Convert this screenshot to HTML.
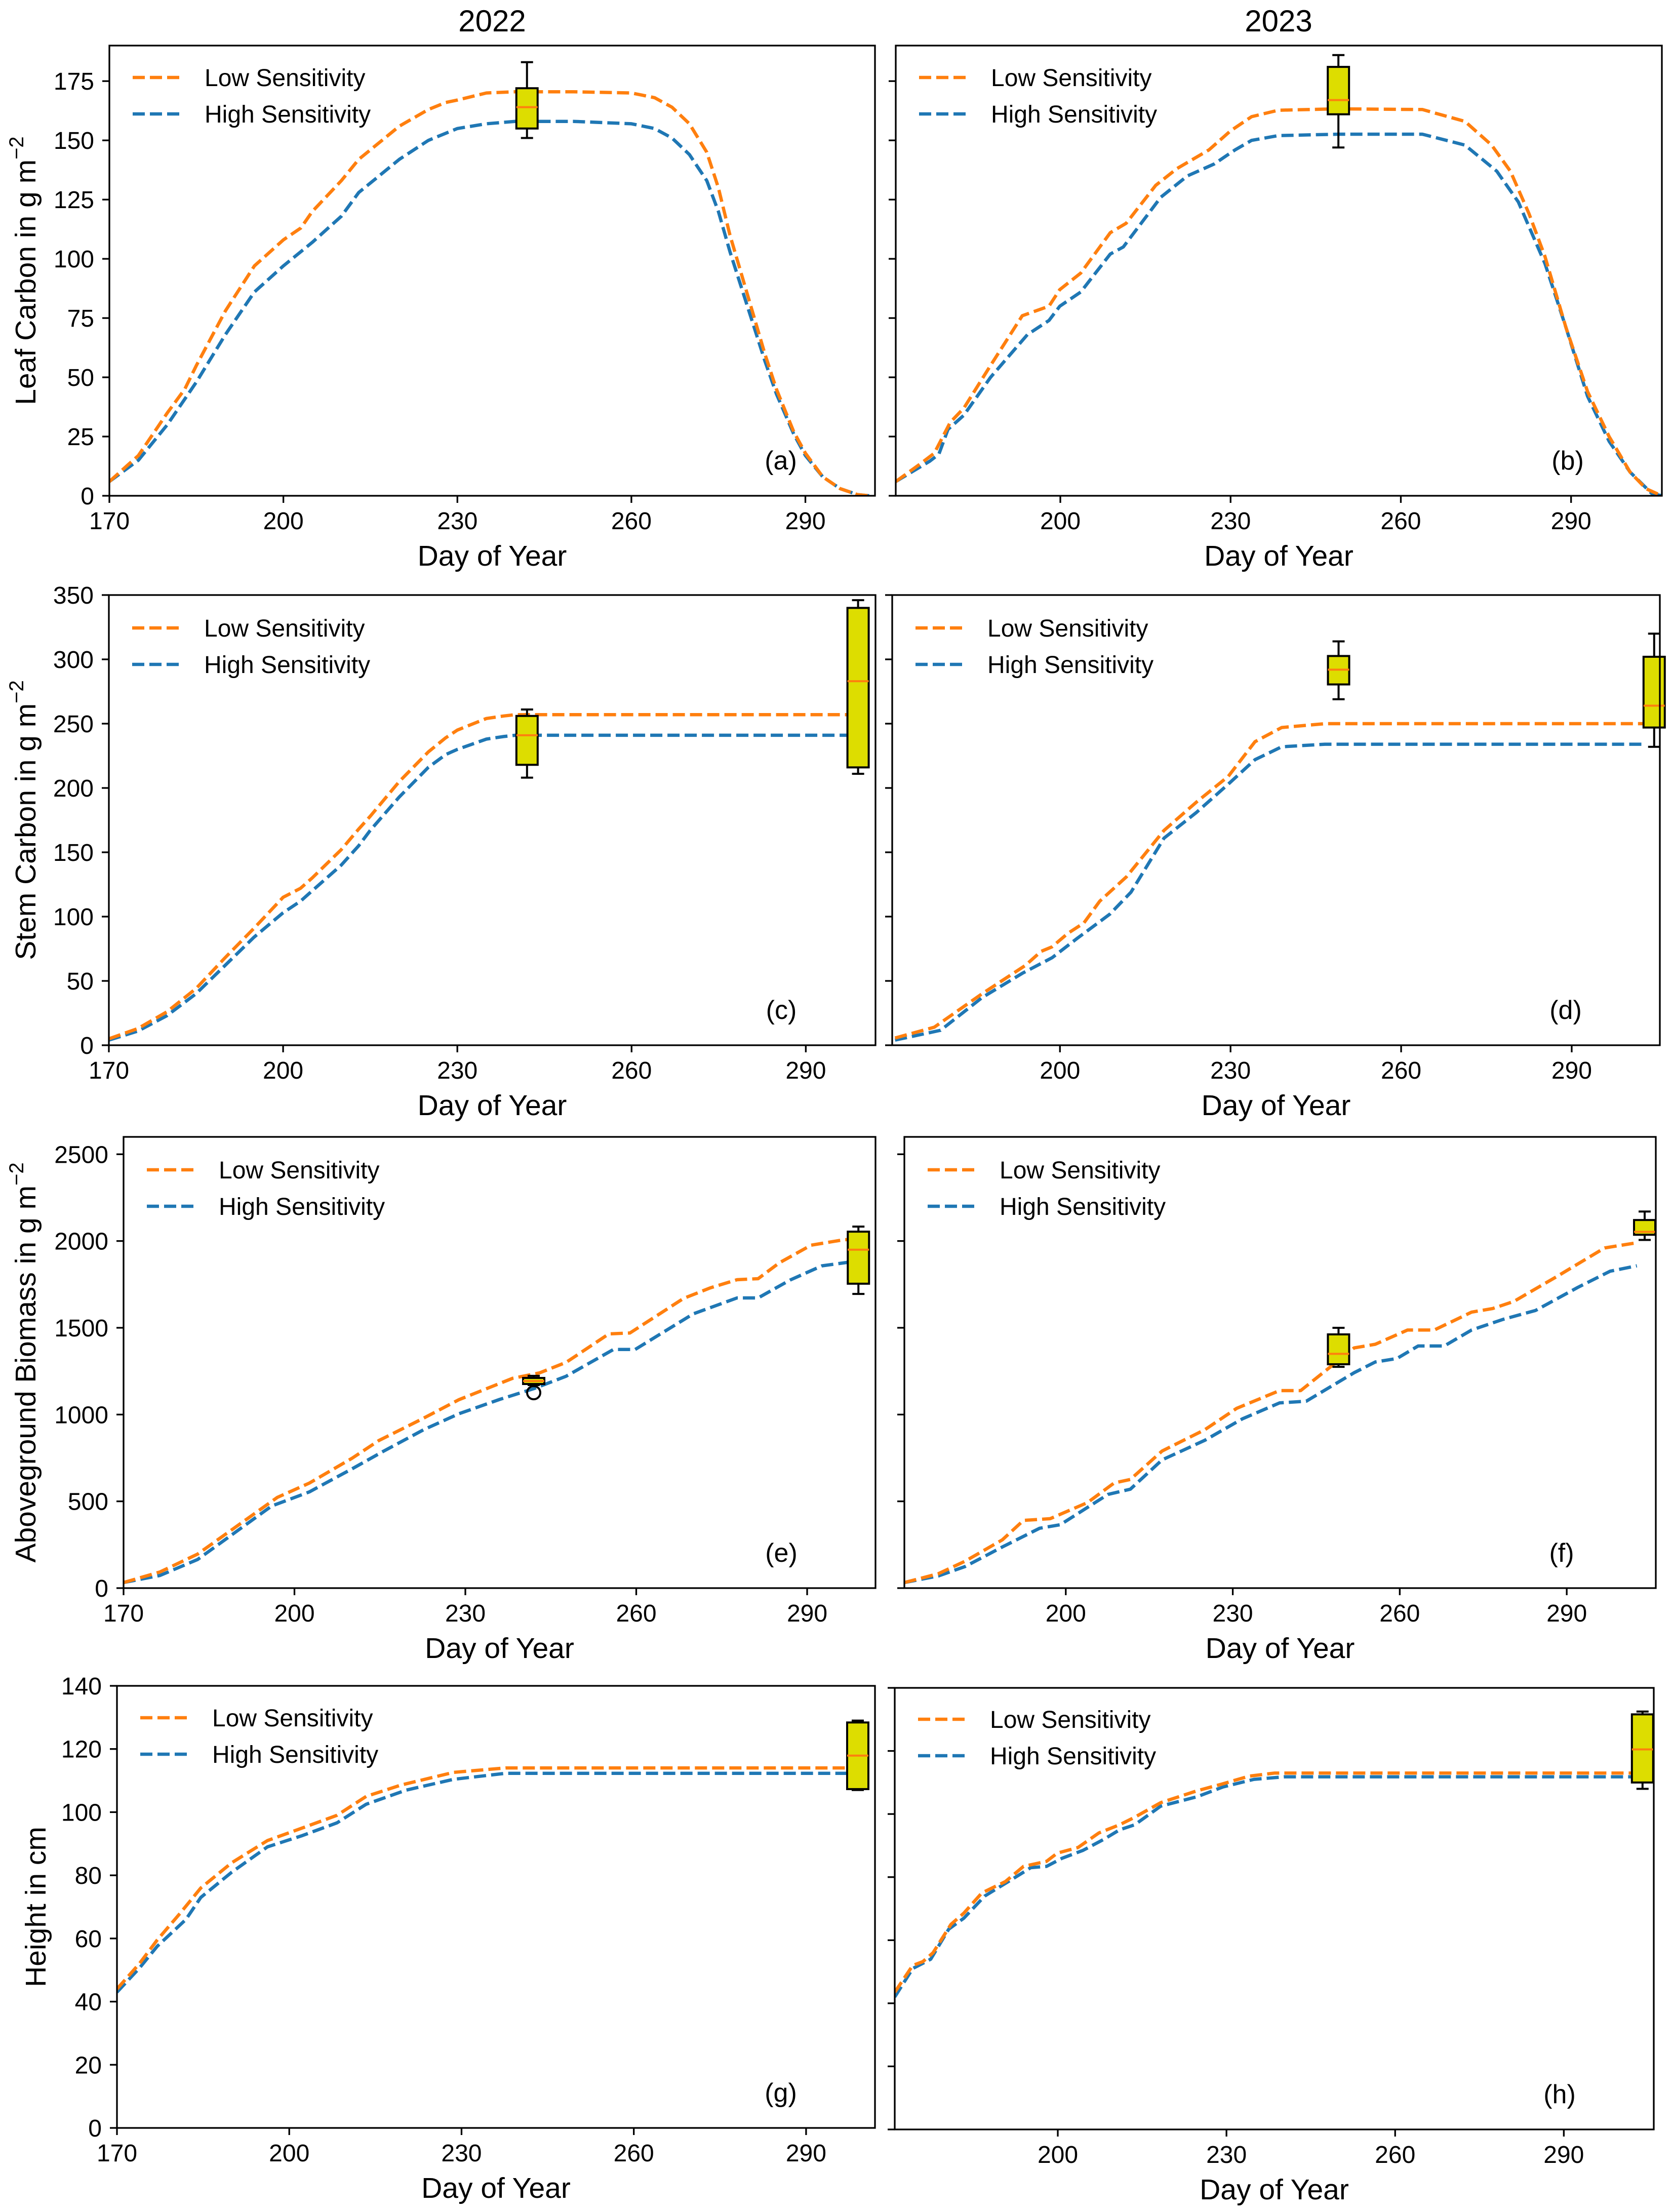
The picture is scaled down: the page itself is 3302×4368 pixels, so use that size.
<!DOCTYPE html>
<html><head><meta charset="utf-8"><title>Leaf, stem, biomass and height: sensitivity runs</title>
<style>
html,body{margin:0;padding:0;background:#fff;}
svg{display:block;font-family:"Liberation Sans",Arial,sans-serif;}
</style></head>
<body>
<svg id="fig" xmlns="http://www.w3.org/2000/svg" width="3302" height="4368" viewBox="0 0 3302 4368">
<rect width="3302" height="4368" fill="#fff"/>
<text x="972" y="62" font-size="60" text-anchor="middle">2022</text>
<text x="2525" y="62" font-size="60" text-anchor="middle">2023</text>
</svg>
<script>
// ---- data (days, values) ----
const aDaysLow=[170,175,180,183,185,190,195,200,203,205,210,213,215,220,225,228,230,235,240,250,260,264,267,270,273,275,277,280,283,285,288,290,293,296,299,301];
const aLow=[6,17,35,45,55,78,97,108,113,120,133,142,146,156,163,166,167,170,170.5,170.5,170,168,164,157,145,130,110,85,60,45,27,18,8,3,0.5,0];
const aDaysHigh=[170,175,180,185,190,195,200,203,205,210,213,215,220,225,228,230,235,240,250,260,264,267,270,273,275,277,280,283,285,288,290,293,296,299,301];
const aHigh=[6,15,30,48,68,86,97,103,107,118,128,132,142,150,153,155,157,158,158,157,155,151,144,133,120,103,80,57,43,26,17,8,3,0.5,0];

const bDaysLow=[171,175.4,177.8,180.6,183,187.7,193.3,198,199.9,203.6,208.8,211.6,216.8,220.5,226.2,230,233.7,238.4,249,263.8,271.3,276,279.3,282.6,285.4,289.1,292.9,296.7,300.4,303.2,306];
const bLow=[6,13.6,18,31,37,55,76,80,87,94,111,115,131,138,146,154,160,162.7,163.3,163,158,148,137,119,101,71,44,25,10,3,0];
const bDaysHigh=[171,177,178.6,180.2,183,187.7,194.2,198,199.9,203.6,208.8,211.1,217.7,222.4,227.1,230.8,233.7,238.4,249,263.8,271.3,276.9,280.7,285.4,289.1,292.9,296.7,300.4,304.2,306];
const bHigh=[6,14.6,17.6,28,34,50,68,74,80,86,102,105,126,135,140,146,150,152,152.6,152.6,148,137,124,98,71,42,23,10,1,0];

const cDays=[170,175,180,185,190,195,200,203,205,210,213,215,220,225,228,230,235,238,240,297];
const cLow=[5,13,26,44,68,91,115,122,130,152,168,178,205,228,239,245,254,256,257,257];
const cHigh=[4,11,23,40,62,84,103,112,120,140,155,167,193,216,226,230,238,240,241,241];

const dDaysLow=[171,177.9,186.3,193.9,196.7,198.6,201.4,204.2,207,211.7,218.3,224,229.6,234.3,239,246.6,303];
const dLow=[5.6,14,40,62,73,76.5,87,95,112,131,167,189,209,236,247,250,250];
const dDaysHigh=[171,179,186.3,193.4,198.6,203,208.8,212.5,218.3,224,229.6,234.3,239,246.6,303];
const dHigh=[4,11.6,37,56,68,83,102,119,161,181,203,222,232,234,234];

const eDaysLow=[170,176.4,183,197,202.6,210.1,214.8,222.3,228.9,238.3,243,247.7,255.2,258.9,268.3,273,277.7,281.4,285.1,290.7,296.4,298];
const eLow=[32,93,196,523,605,748,850,973,1086,1209,1240,1301,1465,1470,1669,1730,1777,1783,1874,1976,2007,2010];
const eDaysHigh=[170,176.4,183,196,202.6,210.1,215.7,222.7,228.9,236,242,247.7,256,259.8,270,277.7,281.4,287,292.6,298];
const eHigh=[32,73,165,473,554,687,790,913,1005,1087,1149,1221,1375,1375,1580,1672,1672,1775,1857,1881];

const fDaysLow=[171,177.1,181.9,188.6,192.4,197.2,203.9,208.7,211.6,217.3,225,230.7,238.4,242.2,251.8,255.6,261.4,266.2,272.9,276.7,280.5,288.2,296.8,302.6];
const fLow=[32,83,155,278,390,400,493,606,626,790,913,1036,1138,1138,1384,1405,1487,1487,1590,1611,1652,1795,1960,1990];
const fDaysHigh=[171,177.1,181.9,188.6,195.3,199,207.6,211.6,217.3,225,231.7,238.4,243.2,251.8,255.6,259.5,263.3,268,272.9,278.6,284.4,292,297.8,302.6];
const fHigh=[32,70,124,237,345,365,540,570,739,852,975,1067,1077,1241,1303,1323,1395,1395,1487,1549,1600,1733,1826,1857];

const gDaysLow=[170,173.9,177,181,184.6,190,196.2,202.3,208.3,213.4,219.5,228.6,237.7,297];
const gLow=[44,52,59.5,68,76,84,91,95,99,105,108.6,112.6,114,114];
const gDaysHigh=[170,173.9,177,182,184.6,190,196.2,202.3,208.3,213.4,220.4,228.6,237.7,297];
const gHigh=[43,50.6,57.5,66,73,81,89,92.6,96.6,102.5,107,110.4,112.3,112.3];

const hDaysLow=[171,174.2,176,177.8,181,183.3,186.5,190.7,193.9,198,199.9,203.6,207.3,211,213.7,218.3,224.8,229.4,234,238.6,302];
const hLow=[43.5,52,53.2,56,65,68.6,75,78.6,83.4,85,87.6,89.4,94,96.6,99,103.6,107.4,109.6,112,113,113];
const hDaysHigh=[171,174.2,177.4,180.6,183.3,187,191.6,195.2,198,200.8,204.5,208.2,211,213.7,218.3,224.8,229.4,234.9,240.4,302];
const hHigh=[42,51,54,63.5,67,74,79,83,83.4,86,88.5,92,95,96.6,102.5,105.5,108.6,111,111.8,111.8];

// box stats: [day, whiskerLow, q1, median, q3, whiskerHigh]
const aBoxes=[[242,151,155,164,172,183]];
const bBoxes=[[249,147,161,167,181,186]];
const cBoxes=[[242,208,218,241,256,261],[299,211,216,283,340,346]];
const dBoxes=[[249,269,280.5,292,302.6,314],[304.5,232,247,264,302,320]];
const eBoxes=[[242,1170,1176,1193,1211,1223],[299,1695,1754,1950,2054,2083]];
const eOutliers=[[242,1126]];
const fBoxes=[[249,1275,1290,1350,1462,1500],[304,2006,2036,2053,2121,2170]];
const gBoxes=[[299,107,107.3,117.9,128.4,129]];
const hBoxes=[[304,108,110,120.5,131.6,132.5]];

const xTicks=[170,200,230,260,290];
const aTicks=[0,25,50,75,100,125,150,175];
const cTicks=[0,50,100,150,200,250,300,350];
const eTicks=[0,500,1000,1500,2000,2500];
const gTicks=[0,20,40,60,80,100,120,140];

// ---- drawing ----
const NS='http://www.w3.org/2000/svg';
const svg=document.getElementById('fig');
function mk(tag,attrs,parent){const e=document.createElementNS(NS,tag);for(const k in attrs)e.setAttribute(k,attrs[k]);(parent||svg).appendChild(e);return e;}

function panel(p){
  const g=mk('g',{});
  
  
  const X=d=>p.L+(d-p.x0)/(p.x1-p.x0)*(p.R-p.L);
  const Y=v=>p.B-(v-p.y0)/(p.y1-p.y0)*(p.B-p.T);
  const clipId='clip'+p.id;
  const cp=mk('clipPath',{id:clipId},g);mk('rect',{x:p.L,y:p.T,width:p.R-p.L,height:p.B-p.T},cp);
  const series=[[p.lowD,p.low,'#ff7f0e','line-low-sensitivity'],[p.highD,p.high,'#1f77b4','line-high-sensitivity']];
  series.reverse().forEach(s=>{
    let d='';s[0].forEach((dd,i)=>{d+=(i?'L':'M')+X(dd).toFixed(1)+' '+Y(s[1][i]).toFixed(1);});
    const path=mk('path',{d:d,fill:'none',stroke:s[2],'stroke-width':6.5,'stroke-linejoin':'round','stroke-dasharray':'24 10','clip-path':'url(#'+clipId+')'},g);
    
    
  });
  p.boxes.forEach((b,i)=>{
    const bg=mk('g',{},g);
    
    
    const cx=X(b[0]),hw=21,cw=12;
    mk('line',{x1:cx,x2:cx,y1:Y(b[1]),y2:Y(b[2]),stroke:'#000','stroke-width':4},bg);
    mk('line',{x1:cx,x2:cx,y1:Y(b[4]),y2:Y(b[5]),stroke:'#000','stroke-width':4},bg);
    mk('line',{x1:cx-cw,x2:cx+cw,y1:Y(b[1]),y2:Y(b[1]),stroke:'#000','stroke-width':4},bg);
    mk('line',{x1:cx-cw,x2:cx+cw,y1:Y(b[5]),y2:Y(b[5]),stroke:'#000','stroke-width':4},bg);
    mk('rect',{x:cx-hw,y:Y(b[4]),width:2*hw,height:Math.max(0,Y(b[2])-Y(b[4])),fill:'#dddd00',stroke:'#000','stroke-width':4},bg);
    mk('line',{x1:cx-hw,x2:cx+hw,y1:Y(b[3]),y2:Y(b[3]),stroke:'#ff7f0e','stroke-width':4},bg);
  });
  (p.outliers||[]).forEach(o=>{
    const c=mk('circle',{cx:X(o[0]),cy:Y(o[1]),r:13,fill:'none',stroke:'#000','stroke-width':4},g);
    
    
  });
  const fr=mk('rect',{x:p.L,y:p.T,width:p.R-p.L,height:p.B-p.T,fill:'none',stroke:'#000','stroke-width':3.3},g);
  
  
  xTicks.forEach(t=>{
    if(t<p.x0-0.01||t>p.x1)return;
    const x=X(t);
    mk('line',{x1:x,x2:x,y1:p.B,y2:p.B+14,stroke:'#000','stroke-width':3.3},g);
    const tx=mk('text',{x:x,y:p.B+66,'font-size':48,'text-anchor':'middle'},g);
    tx.textContent=t;
    
    
  });
  p.yTicks.forEach(t=>{
    const y=Y(t);
    mk('line',{x1:p.L-14,x2:p.L,y1:y,y2:y,stroke:'#000','stroke-width':3.3},g);
    if(p.showY){
      const ty=mk('text',{x:p.L-30,y:y+17,'font-size':48,'text-anchor':'end'},g);
      ty.textContent=t;
      
      
    }
  });
  const xt=mk('text',{x:(p.L+p.R)/2,y:p.B+138,'font-size':57,'text-anchor':'middle'},g);
  xt.textContent='Day of Year';
  
  
  if(p.ylabel){
    const cy=(p.T+p.B)/2;
    const yt=mk('text',{x:p.ylx,y:cy,'font-size':57,'text-anchor':'middle',transform:'rotate(-90 '+p.ylx+' '+cy+')'},g);
    
    
    yt.appendChild(document.createTextNode(p.ylabel));
    if(p.sup){
      const ts=mk('tspan',{dy:-24,'font-size':40},yt);
      ts.textContent='−2';
    }
  }
  const lg=mk('g',{},g);
  
  
  [['Low Sensitivity','#ff7f0e',p.legY],['High Sensitivity','#1f77b4',p.legY+72]].forEach(e=>{
    const eg=mk('g',{},lg);
    
    
    mk('line',{x1:p.L+p.legX,x2:p.L+p.legX+98,y1:e[2],y2:e[2],stroke:e[1],'stroke-width':6.5,'stroke-dasharray':'24 10'},eg);
    const t=mk('text',{x:p.L+p.legX+142,y:e[2]+17,'font-size':48},eg);
    t.textContent=e[0];
  });
  const pl=mk('text',{x:p.R-186,y:p.B-52,'font-size':52,'text-anchor':'middle'},g);
  pl.textContent='('+p.id+')';
  
  
}

const common2022={x0:170,x1:302};
const common2023={x0:171,x1:306};
panel({id:'a',L:216,T:90,R:1728,B:979,...common2022,y0:0,y1:190,yTicks:aTicks,showY:true,lowD:aDaysLow,low:aLow,highD:aDaysHigh,high:aHigh,boxes:aBoxes,ylabel:'Leaf Carbon in g m',sup:true,ylx:70,legX:46,legY:153});
panel({id:'b',L:1769,T:90,R:3282,B:979,...common2023,y0:0,y1:190,yTicks:aTicks,showY:false,lowD:bDaysLow,low:bLow,highD:bDaysHigh,high:bHigh,boxes:bBoxes,legX:46,legY:153});
panel({id:'c',L:215,T:1175,R:1729,B:2064,x0:170,x1:302,y0:0,y1:350,yTicks:cTicks,showY:true,lowD:cDays,low:cLow,highD:cDays,high:cHigh,boxes:cBoxes,ylabel:'Stem Carbon in g m',sup:true,ylx:70,legX:46,legY:1240});
panel({id:'d',L:1762,T:1175,R:3278,B:2064,x0:170.5,x1:305.5,y0:0,y1:350,yTicks:cTicks,showY:false,lowD:dDaysLow,low:dLow,highD:dDaysHigh,high:dHigh,boxes:dBoxes,legX:46,legY:1240});
panel({id:'e',L:244,T:2245,R:1729,B:3136,x0:170,x1:302,y0:0,y1:2600,yTicks:eTicks,showY:true,lowD:eDaysLow,low:eLow,highD:eDaysHigh,high:eHigh,boxes:eBoxes,outliers:eOutliers,ylabel:'Aboveground Biomass in g m',sup:true,ylx:70,legX:46,legY:2310});
panel({id:'f',L:1786,T:2245,R:3270,B:3136,...common2023,y0:0,y1:2600,yTicks:eTicks,showY:false,lowD:fDaysLow,low:fLow,highD:fDaysHigh,high:fHigh,boxes:fBoxes,legX:46,legY:2310});
panel({id:'g',L:231,T:3329,R:1728,B:4202,x0:170,x1:302,y0:0,y1:140,yTicks:gTicks,showY:true,lowD:gDaysLow,low:gLow,highD:gDaysHigh,high:gHigh,boxes:gBoxes,ylabel:'Height in cm',sup:false,ylx:90,legX:46,legY:3392});
panel({id:'h',L:1767,T:3333,R:3266,B:4205,...common2023,y0:0,y1:140,yTicks:gTicks,showY:false,lowD:hDaysLow,low:hLow,highD:hDaysHigh,high:hHigh,boxes:hBoxes,legX:46,legY:3395});
</script>
</body></html>
